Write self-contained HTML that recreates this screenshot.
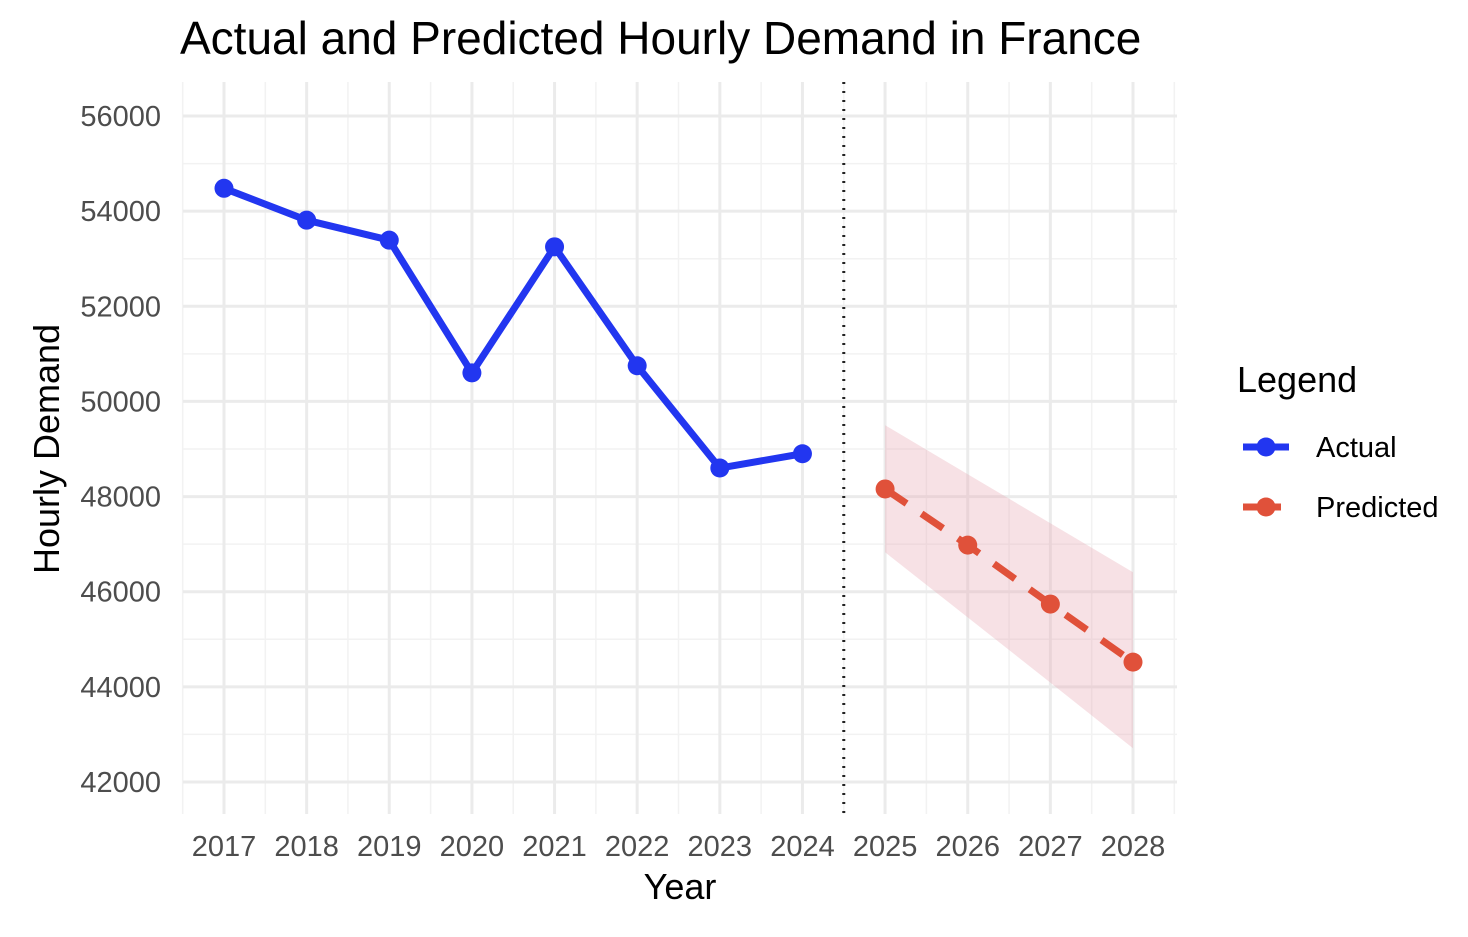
<!DOCTYPE html>
<html><head><meta charset="utf-8"><style>
body{margin:0;background:#fff;}
svg text{font-family:"Liberation Sans",sans-serif;}
</style></head><body>
<svg id="chart" width="1468" height="932" viewBox="0 0 1468 932" xmlns="http://www.w3.org/2000/svg">
<text x="180" y="54" font-size="46" fill="#000">Actual and Predicted Hourly Demand in France</text>
<g id="grid"></g>
<g id="band"></g>
<g id="lines"></g>
<g id="axes"></g>
<text x="680" y="899" font-size="36" text-anchor="middle" fill="#000">Year</text>
<text transform="translate(59,449) rotate(-90)" font-size="36" text-anchor="middle" fill="#000">Hourly Demand</text>
<g>
<text x="1237" y="392" font-size="36" fill="#000">Legend</text>
<g>
<line x1="1243" y1="447" x2="1289" y2="447" stroke="#2236f0" stroke-width="7"/>
<circle cx="1266" cy="447" r="9.5" fill="#2236f0"/>
<text x="1316" y="457" font-size="29" fill="#000">Actual</text></g>
<g>
<line x1="1243" y1="507" x2="1289" y2="507" stroke="#e0513a" stroke-width="7" stroke-dasharray="14,10"/>
<circle cx="1266" cy="507" r="9.5" fill="#e0513a"/>
<text x="1316" y="517" font-size="29" fill="#000">Predicted</text></g>
</g>
</svg>
<script>
const years=[2017,2018,2019,2020,2021,2022,2023,2024,2025,2026,2027,2028];
const actualYears=[2017,2018,2019,2020,2021,2022,2023,2024];
const actualValues=[54480,53810,53390,50600,53250,50750,48600,48900];
const predYears=[2025,2026,2027,2028];
const predValues=[48160,46980,45740,44520];
const predLower=[46830,45460,44090,42710];
const predUpper=[49500,48470,47440,46410];
const yTicks=[42000,44000,46000,48000,50000,52000,54000,56000];
const NS="http://www.w3.org/2000/svg";
const X=y=>224+(y-2017)*(1133-224)/11;
const Y=v=>116+(56000-v)*(782-116)/14000;
function mk(parent,tag,attrs){const e=document.createElementNS(NS,tag);for(const k in attrs)e.setAttribute(k,attrs[k]);document.getElementById(parent).appendChild(e);return e;}
const L=183,R=1177,T=82,B=814;
for(let i=0;i<years.length-1;i++){const x=(X(years[i])+X(years[i+1]))/2;const g=mk('grid','line',{x1:x,x2:x,y1:T,y2:B,stroke:'#f2f2f2','stroke-width':1.5});}
[X(2017)-41.3,X(2028)+41.3].forEach(x=>{const g=mk('grid','line',{x1:x,x2:x,y1:T,y2:B,stroke:'#f2f2f2','stroke-width':1.5});});
for(let v=43000;v<=55000;v+=2000){const g=mk('grid','line',{x1:L,x2:R,y1:Y(v),y2:Y(v),stroke:'#f2f2f2','stroke-width':1.5});}
years.forEach(y=>{const g=mk('grid','line',{x1:X(y),x2:X(y),y1:T,y2:B,stroke:'#ebebeb','stroke-width':3});
const t=mk('axes','text',{x:X(y),y:856,'font-size':29,'text-anchor':'middle',fill:'#4d4d4d'});t.textContent=y;});
yTicks.forEach(v=>{const g=mk('grid','line',{x1:L,x2:R,y1:Y(v),y2:Y(v),stroke:'#ebebeb','stroke-width':3});
const t=mk('axes','text',{x:161,y:Y(v)+10,'font-size':29,'text-anchor':'end',fill:'#4d4d4d'});t.textContent=v;});
let pts=predYears.map((y,i)=>X(y)+','+Y(predUpper[i])).concat(predYears.slice().reverse().map((y,i)=>X(y)+','+Y(predLower[predYears.length-1-i])));
const band=mk('band','polygon',{points:pts.join(' '),fill:'#e7a8b4','fill-opacity':0.35});


const dv=mk('lines','line',{x1:(X(2024)+X(2025))/2,x2:(X(2024)+X(2025))/2,y1:T,y2:B,stroke:'#222','stroke-width':3,'stroke-dasharray':'2,7'});


const al=mk('lines','polyline',{points:actualYears.map((y,i)=>X(y)+','+Y(actualValues[i])).join(' '),fill:'none',stroke:'#2236f0','stroke-width':7,'stroke-linejoin':'round'});


const pl=mk('lines','polyline',{points:predYears.map((y,i)=>X(y)+','+Y(predValues[i])).join(' '),fill:'none',stroke:'#e0513a','stroke-width':7,'stroke-dasharray':'26,18'});


actualYears.forEach((y,i)=>{const c=mk('lines','circle',{cx:X(y),cy:Y(actualValues[i]),r:9.5,fill:'#2236f0'});});
predYears.forEach((y,i)=>{const c=mk('lines','circle',{cx:X(y),cy:Y(predValues[i]),r:9.5,fill:'#e0513a'});});
</script>
</body></html>
